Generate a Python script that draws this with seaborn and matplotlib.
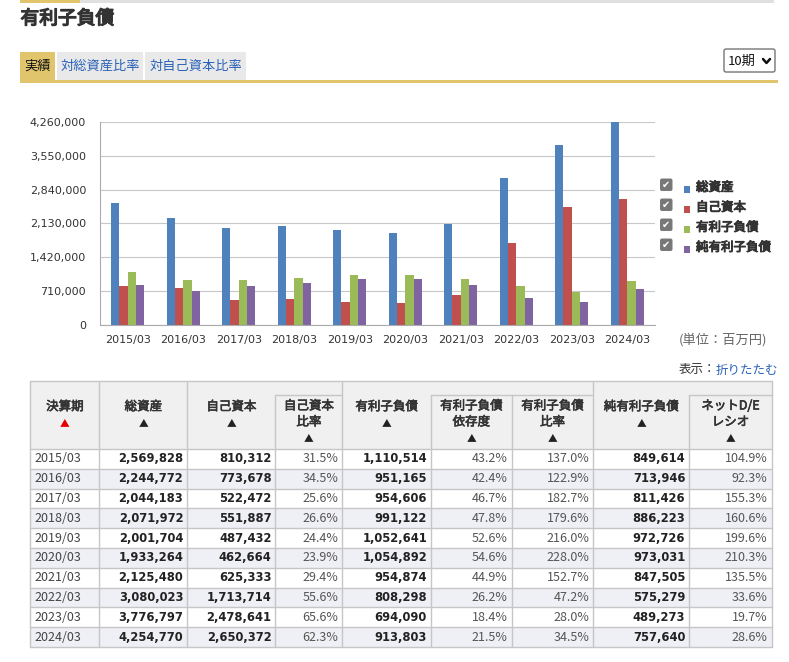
import matplotlib
matplotlib.use("Agg")
import matplotlib.pyplot as plt
import matplotlib.patheffects as pe
from matplotlib.patches import Rectangle, FancyBboxPatch
from matplotlib.ticker import FuncFormatter
import numpy as np
import pandas as pd
import seaborn as sns

# --- Daten (Einheit: Mio. Yen) ---
periods = ["2015/03", "2016/03", "2017/03", "2018/03", "2019/03",
           "2020/03", "2021/03", "2022/03", "2023/03", "2024/03"]
total_assets = [2569828, 2244772, 2044183, 2071972, 2001704,
                1933264, 2125480, 3080023, 3776797, 4254770]
equity = [810312, 773678, 522472, 551887, 487432,
          462664, 625333, 1713714, 2478641, 2650372]
equity_ratio = [31.5, 34.5, 25.6, 26.6, 24.4, 23.9, 29.4, 55.6, 65.6, 62.3]
debt = [1110514, 951165, 954606, 991122, 1052641,
        1054892, 954874, 808298, 694090, 913803]
debt_dependency = [43.2, 42.4, 46.7, 47.8, 52.6, 54.6, 44.9, 26.2, 18.4, 21.5]
debt_ratio = [137.0, 122.9, 182.7, 179.6, 216.0, 228.0, 152.7, 47.2, 28.0, 34.5]
net_debt = [849614, 713946, 811426, 886223, 972726,
            973031, 847505, 575279, 489273, 757640]
net_de = [104.9, 92.3, 155.3, 160.6, 199.6, 210.3, 135.5, 33.6, 19.7, 28.6]

series_names = ["総資産", "自己資本", "有利子負債", "純有利子負債"]
series_colors = ["#4F81BD", "#C0504D", "#9BBB59", "#8064A2"]
y_ticks = [0, 710000, 1420000, 2130000, 2840000, 3550000, 4260000]

sns.set_theme(style="white")
plt.rcParams["font.family"] = ["Noto Sans CJK JP", "DejaVu Sans"]

W, H = 789, 662
fig = plt.figure(figsize=(W / 100, H / 100), dpi=100)
fig.patch.set_facecolor("white")

# Hintergrund-Achse in Pixelkoordinaten fuer Seitenelemente
bg = fig.add_axes([0, 0, 1, 1])
bg.set_xlim(0, W)
bg.set_ylim(H, 0)
bg.axis("off")

GOLD = "#E1C56C"
LINK = "#2A62B8"
TXT = "#333333"


def bold(width, color):
    # CJK-Schrift nur als Regular vorhanden -> Fettdruck per Kontur
    return [pe.withStroke(linewidth=width, foreground=color)]


# Kopfzeile
bg.add_patch(Rectangle((20, 0), 60, 2.5, fc=GOLD, ec="none"))
bg.add_patch(Rectangle((80, 0), 694, 2.5, fc="#E0E0E0", ec="none"))
bg.text(20.5, 18.5, "有利子負債", fontsize=13.5, color=TXT,
        va="center", ha="left", path_effects=bold(1.0, TXT))

# Reiter
bg.add_patch(Rectangle((20, 52), 35, 28, fc=GOLD, ec="none"))
bg.add_patch(Rectangle((57, 52), 86, 28, fc="#E9E9E9", ec="none"))
bg.add_patch(Rectangle((145, 52), 101, 28, fc="#E9E9E9", ec="none"))
bg.add_patch(Rectangle((20, 80), 758, 2.8, fc=GOLD, ec="none"))
bg.text(37.5, 66.5, "実績", fontsize=9.5, color="#111111", ha="center", va="center")
bg.text(100, 66.5, "対総資産比率", fontsize=9.5, color=LINK, ha="center", va="center")
bg.text(195.5, 66.5, "対自己資本比率", fontsize=9.5, color=LINK, ha="center", va="center")

# Auswahlbox
bg.add_patch(FancyBboxPatch((724, 49), 51, 23, boxstyle="round,pad=0,rounding_size=2",
                            fc="white", ec="#767676", lw=1))
bg.text(728, 61, "10期", fontsize=9.5, color="#111111", ha="left", va="center")
bg.plot([763, 766.5, 770], [59, 63, 59], color="#111111", lw=1.8,
        solid_capstyle="round", solid_joinstyle="round")

# --- Balkendiagramm ---
long = pd.DataFrame({
    "period": periods * 4,
    "series": np.repeat(series_names, len(periods)),
    "value": total_assets + equity + debt + net_debt,
})

ax = fig.add_axes([100 / W, 1 - 325 / H, 555 / W, 203 / H])
ax.set_facecolor("white")
sns.barplot(data=long, x="period", y="value", hue="series",
            hue_order=series_names, palette=series_colors, width=0.6,
            saturation=1, linewidth=0, errorbar=None, legend=False, ax=ax)
ax.set_xlim(-0.5, len(periods) - 0.5)
ax.set_ylim(0, y_ticks[-1])
ax.set_yticks(y_ticks)
ax.yaxis.set_major_formatter(FuncFormatter(lambda v, p: f"{int(v):,}"))
ax.set_xlabel("")
ax.set_ylabel("")
ax.grid(axis="y", color="#C8C8C8", lw=0.8)
ax.set_axisbelow(True)
for s in ["top", "right"]:
    ax.spines[s].set_visible(False)
for s in ["left", "bottom"]:
    ax.spines[s].set_color("#ABABAB")
    ax.spines[s].set_linewidth(0.8)
ax.set_xticks(np.arange(-0.5, len(periods), 1), minor=True)
ax.tick_params(axis="x", which="major", length=0, pad=7, labelsize=8,
               labelcolor=TXT)
ax.tick_params(axis="x", which="minor", length=4.5, width=0.8, color="#ABABAB")
ax.tick_params(axis="y", length=0, pad=10, labelsize=8, labelcolor=TXT)
for lab in ax.get_xticklabels() + ax.get_yticklabels():
    lab.set_family("DejaVu Sans")

# Legende mit Checkboxen
for i, (name, col) in enumerate(zip(series_names, series_colors)):
    yc = 184.5 + 20 * i
    bg.add_patch(FancyBboxPatch((660, yc - 6), 12.5, 12.5,
                                boxstyle="round,pad=0,rounding_size=2",
                                fc="#787878", ec="none"))
    bg.text(666.3, yc + 0.5, "✔", family="DejaVu Sans", fontsize=7,
            color="white", ha="center", va="center")
    bg.add_patch(Rectangle((684, yc + 1.5), 6.5, 6.5, fc=col, ec="none"))
    bg.text(696, yc + 3, name, fontsize=9, color=TXT, ha="left", va="center",
            path_effects=bold(0.7, TXT))

bg.text(723, 340, "(単位：百万円)", fontsize=9.5, color="#666666",
        ha="center", va="center")
bg.text(716, 370, "表示：", fontsize=9, color=TXT, ha="right", va="center")
bg.text(716, 370, "折りたたむ", fontsize=9, color=LINK, ha="left", va="center")

# --- Tabelle ---
cols = [30.5, 99.3, 187.3, 275.5, 342.3, 431, 511.7, 593.3, 689.3, 771.7]
top, sub, head_bot = 380.5, 395, 449
row_h = 19.8
n = len(periods)
bottom = head_bot + row_h * n
BORDER = "#C6C6C6"

bg.add_patch(Rectangle((cols[0], top), cols[-1] - cols[0], head_bot - top,
                       fc="#F0F0F0", ec="none"))
for i in range(n):
    fc = "white" if i % 2 == 0 else "#EFEFF6"
    bg.add_patch(Rectangle((cols[0], head_bot + i * row_h), cols[-1] - cols[0],
                           row_h, fc=fc, ec="none"))

sub_cols = [3, 5, 6, 8]
# horizontale Linien
bg.plot([cols[0], cols[-1]], [top, top], color=BORDER, lw=1)
for i in range(n + 1):
    y = head_bot + i * row_h
    bg.plot([cols[0], cols[-1]], [y, y], color=BORDER, lw=1)
for a, b in [(3, 4), (5, 7), (8, 9)]:
    bg.plot([cols[a], cols[b]], [sub, sub], color=BORDER, lw=1)
# vertikale Linien
for j, x in enumerate(cols):
    y0 = sub if j in sub_cols else top
    bg.plot([x, x], [y0, head_bot], color=BORDER, lw=1)
    bg.plot([x, x], [head_bot, bottom], color=BORDER, lw=1)

headers = [["決算期"], ["総資産"], ["自己資本"], ["自己資本", "比率"],
           ["有利子負債"], ["有利子負債", "依存度"], ["有利子負債", "比率"],
           ["純有利子負債"], ["ネットD/E", "レシオ"]]
for j, lines in enumerate(headers):
    xc = (cols[j] + cols[j + 1]) / 2
    lines = lines + ["▲"]
    y_mid = (sub + head_bot) / 2 if j in sub_cols else (top + head_bot) / 2
    y_start = y_mid - 16 * (len(lines) - 1) / 2
    for k, t in enumerate(lines):
        is_tri = t == "▲"
        color = ("#E60000" if j == 0 else "#222222") if is_tri else TXT
        bg.text(xc, y_start + 16 * k, t, fontsize=7 if is_tri else 9,
                color=color, ha="center", va="center",
                path_effects=None if is_tri else bold(0.45, TXT))

num_cols = {1: total_assets, 2: equity, 4: debt, 7: net_debt}
pct_cols = {3: equity_ratio, 5: debt_dependency, 6: debt_ratio, 8: net_de}
for i, p in enumerate(periods):
    yc = head_bot + row_h * (i + 0.5)
    bg.text(cols[0] + 3.5, yc, p, fontsize=9, color="#444444",
            ha="left", va="center")
    for j, vals in num_cols.items():
        bg.text(cols[j + 1] - 4, yc, f"{vals[i]:,}", family="DejaVu Sans",
                fontsize=8.3, fontweight="bold", color="#222222",
                ha="right", va="center")
    for j, vals in pct_cols.items():
        bg.text(cols[j + 1] - 4, yc, f"{vals[i]:.1f}%", fontsize=9,
                color="#555555", ha="right", va="center")

fig.savefig("out.png", dpi=100)
